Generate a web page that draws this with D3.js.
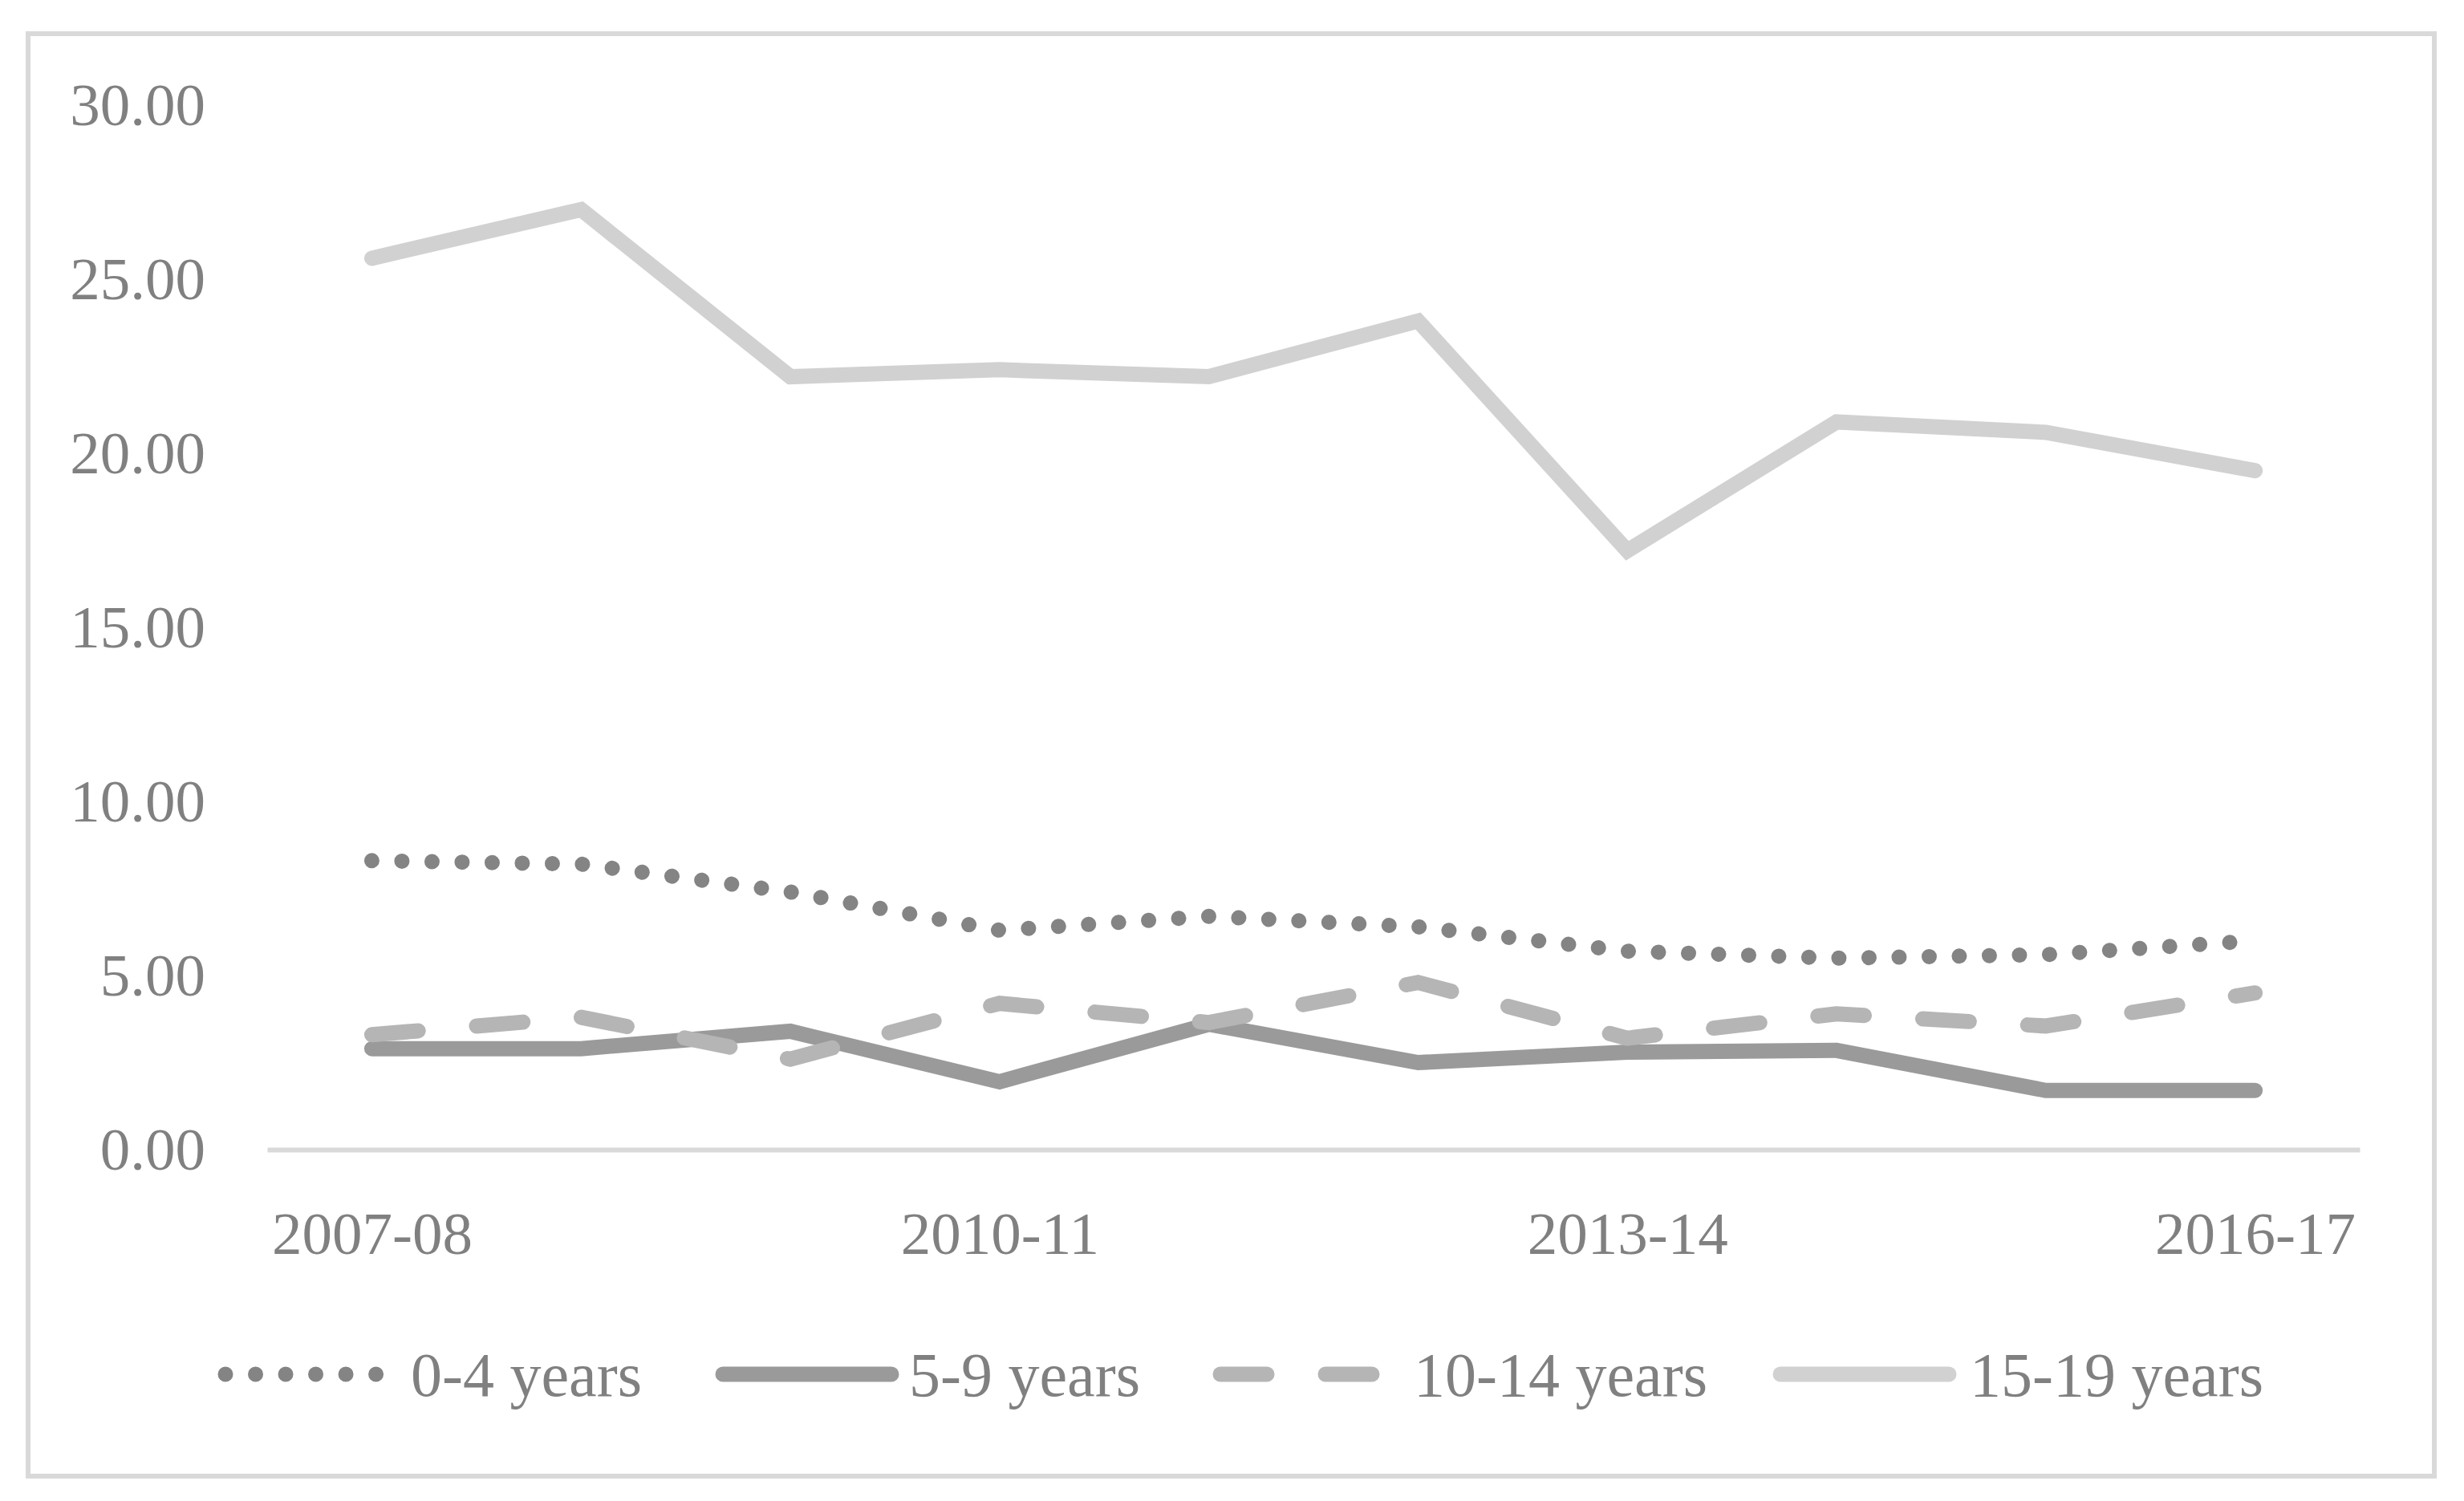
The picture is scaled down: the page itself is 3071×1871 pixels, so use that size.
<!DOCTYPE html>
<html>
<head>
<meta charset="utf-8">
<script src="https://cdn.jsdelivr.net/npm/d3@7"></script>
<style>
  html, body { margin: 0; padding: 0; background: #ffffff; }
  svg { display: block; }
</style>
</head>
<body>
<div id="chart"></div>
<script>
// ---- data ----
const categories = ["2007-08","2008-09","2009-10","2010-11","2011-12","2012-13","2013-14","2014-15","2015-16","2016-17"];
const xTickLabels = ["2007-08","2010-11","2013-14","2016-17"];
const yTicks = [0, 5, 10, 15, 20, 25, 30];
const seriesNames = ["0-4 years","5-9 years","10-14 years","15-19 years"];
const age0_4   = [8.3, 8.2, 7.4, 6.3, 6.7, 6.4, 5.7, 5.5, 5.6, 6.0];
const age5_9   = [2.9, 2.9, 3.4, 1.95, 3.6, 2.5, 2.8, 2.85, 1.7, 1.7];
const age10_14 = [3.3, 3.8, 2.6, 4.2, 3.65, 4.8, 3.2, 3.9, 3.55, 4.5];
const age15_19 = [25.6, 27.0, 22.2, 22.4, 22.2, 23.8, 17.2, 20.9, 20.6, 19.5];

// ---- layout ----
const W = 3071, H = 1871;
const plotLeft = 333, plotRight = 2941, yZero = 1433, yTop = 131;
const fontFam = "'Liberation Serif', 'DejaVu Serif', serif";
const textColor = "#808080";
const frameColor = "#d9d9d9";

const styles = [
  { color: "#848484", dash: "0.01 37.5", width: 19 },
  { color: "#9a9a9a", dash: null,        width: 19 },
  { color: "#b5b5b5", dash: "58 73",     width: 19 },
  { color: "#d1d1d1", dash: null,        width: 19 }
];
const seriesValues = [age0_4, age5_9, age10_14, age15_19];

const svg = d3.select("#chart").append("svg")
  .attr("width", W).attr("height", H);

svg.append("rect").attr("x", 0).attr("y", 0).attr("width", W).attr("height", H).attr("fill", "#fff");

// frame
svg.append("rect")
  .attr("x", 35).attr("y", 42).attr("width", 2999).attr("height", 1798)
  .attr("fill", "none").attr("stroke", frameColor).attr("stroke-width", 6);

const x = d3.scalePoint().domain(categories).range([plotLeft, plotRight]).padding(0.5);
const y = d3.scaleLinear().domain([0, 30]).range([yZero, yTop]);

// y axis labels
const yAxis = svg.append("g")
  .attr("transform", `translate(256,0)`)
  .call(d3.axisLeft(y).tickValues(yTicks).tickSize(0).tickPadding(0).tickFormat(d3.format(".2f")));
yAxis.select(".domain").remove();
yAxis.selectAll("text")
  .attr("font-family", fontFam).attr("font-size", 75).attr("fill", textColor)
  .attr("dy", "0.33em");

// x axis
const xAxis = svg.append("g")
  .attr("transform", `translate(0,${yZero})`)
  .call(d3.axisBottom(x).tickValues(xTickLabels).tickSize(0).tickSizeOuter(0).tickPadding(0));
xAxis.select(".domain").attr("stroke", frameColor).attr("stroke-width", 6);
xAxis.selectAll("text")
  .attr("font-family", fontFam).attr("font-size", 75).attr("fill", textColor)
  .attr("y", 130).attr("dy", 0);

// lines
const line = d3.line().x((d, i) => x(categories[i])).y(d => y(d));
seriesValues.forEach((vals, si) => {
  const st = styles[si];
  const p = svg.append("path")
    .datum(vals)
    .attr("d", line)
    .attr("fill", "none")
    .attr("stroke", st.color)
    .attr("stroke-width", st.width)
    .attr("stroke-linecap", "round")
    .attr("stroke-linejoin", "miter");
  if (st.dash) p.attr("stroke-dasharray", st.dash);
});

// legend
const legendY = 1713;
const legendItemX = [281, 901, 1521, 2219];
const sampleLen = [188, 210, 190, 210];
const textX = [512, 1133, 1762, 2455];
seriesNames.forEach((name, i) => {
  const st = styles[i];
  const g = svg.append("g");
  const l = g.append("line")
    .attr("x1", legendItemX[i]).attr("x2", legendItemX[i] + sampleLen[i])
    .attr("y1", legendY).attr("y2", legendY)
    .attr("stroke", st.color).attr("stroke-width", st.width)
    .attr("stroke-linecap", "round");
  if (st.dash) l.attr("stroke-dasharray", st.dash);
  g.append("text")
    .attr("x", textX[i]).attr("y", legendY + 27)
    .attr("font-family", fontFam).attr("font-size", 78).attr("fill", textColor)
    .text(name);
});
</script>
</body>
</html>
